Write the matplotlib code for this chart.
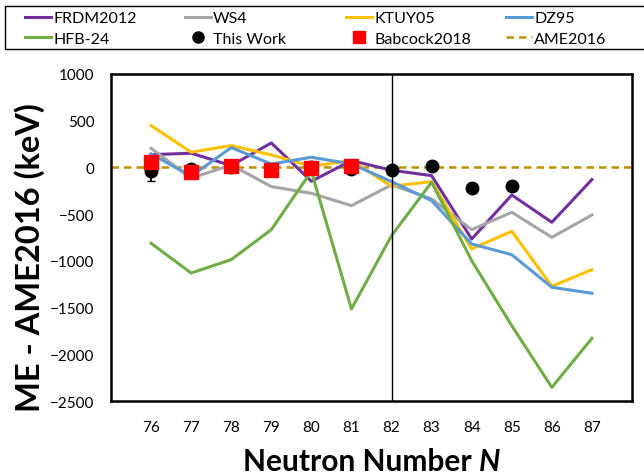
import numpy as np
import matplotlib.pyplot as plt
from matplotlib.patches import Rectangle
from matplotlib.lines import Line2D

plt.rcParams['font.family'] = ['Lato', 'DejaVu Sans']

# Neutron numbers
N = [76, 77, 78, 79, 80, 81, 82, 83, 84, 85, 86, 87]

# Theory minus AME2016 (keV)
frdm2012 = [137, 152, 20, 262, -148, 73, -30, -88, -766, -295, -587, -130]
ws4 = [205, -116, 27, -205, -277, -409, -187, -337, -666, -480, -748, -509]
ktuy05 = [448, 163, 234, 134, 13, 73, -201, -152, -873, -683, -1272, -1094]
dz95 = [145, -94, 212, 37, 109, 37, -152, -355, -819, -934, -1283, -1347]
hfb24 = [-812, -1130, -987, -666, -41, -1515, -730, -159, -998, -1694, -2354, -1829]

# Measurements
N_work = [76, 77, 78, 79, 80, 81, 82, 83, 84, 85]
this_work = [-34, -20, 0, -30, 0, -15, -27, 13, -220, -195]
this_work_err = [115, 20, 20, 20, 20, 20, 20, 20, 20, 20]
N_bab = [76, 77, 78, 79, 80, 81]
babcock2018 = [55, -45, 20, -24, -2, 13]

W, H = 644, 477
fig = plt.figure(figsize=(W / 100, H / 100), dpi=100)
ax = fig.add_axes([111/W, 1-402/H, 521/W, 327/H])

lw = 2.2
h_frdm, = ax.plot(N, frdm2012, color='#7030a0', lw=lw, label='FRDM2012')
h_ws4, = ax.plot(N, ws4, color='#a5a5a5', lw=lw, label='WS4')
h_ktuy, = ax.plot(N, ktuy05, color='#ffc000', lw=lw, label='KTUY05')
h_dz, = ax.plot(N, dz95, color='#5b9bd5', lw=lw, label='DZ95')
h_hfb, = ax.plot(N, hfb24, color='#70ad47', lw=lw, label='HFB-24')
h_ame = ax.axhline(0, color='#bf9000', lw=1.8, ls=(0, (3, 2)), label='AME2016', zorder=1)
ax.errorbar(N_work, this_work, yerr=this_work_err, fmt='o', color='black',
            ms=9, elinewidth=1.5, capsize=3, zorder=4)
ax.plot(N_bab, babcock2018, 's', color='#ff0000', ms=10, zorder=5)

ax.axvline(82, color='black', lw=1)

ax.set_xlim(75, 88)
ax.set_ylim(-2500, 1000)
ax.set_xticks(N)
ax.set_yticks(np.arange(-2500, 1001, 500))
ax.tick_params(axis='both', labelsize=11, length=0)
ax.tick_params(axis='x', pad=14)
ax.tick_params(axis='y', pad=12)
for s in ax.spines.values():
    s.set_linewidth(1.8)

# axis titles
fig.text(30/W, 1 - 258/H, 'ME - AME2016 (keV)', fontsize=23.5, fontweight='bold',
         rotation=90, ha='center', va='center')
t1 = fig.text(0, 1/H, 'Neutron Number ', fontsize=21.5, fontweight='bold',
              ha='left', va='bottom')
t2 = fig.text(0, 1/H, 'N', fontsize=21.5, fontweight='bold', style='italic',
              ha='left', va='bottom')
fig.canvas.draw()
w1 = t1.get_window_extent().width
w2 = t2.get_window_extent().width
x0 = 372 - (w1 + w2) / 2
t1.set_x(x0 / W)
t2.set_x((x0 + w1) / W)

# legend proxies for the point series
h_work = Line2D([], [], ls='none', marker='o', color='black', ms=8, label='This Work')
h_bab = Line2D([], [], ls='none', marker='s', color='#ff0000', ms=8, label='Babcock2018')

# legend: four columns of two entries, inside one frame
cols = [[h_frdm, h_hfb], [h_ws4, h_work], [h_ktuy, h_bab], [h_dz, h_ame]]
col_x = [22, 182, 343, 503]
for hs, x in zip(cols, col_x):
    fig.legend(handles=hs, labels=[h.get_label() for h in hs],
               loc='upper left', bbox_to_anchor=(x / W, 1 - 9 / H),
               frameon=False, fontsize=11.5, handlelength=1.6,
               handletextpad=0.15, labelspacing=0.4, borderaxespad=0,
               borderpad=0.2)
fig.patches.append(Rectangle((5/W, 1 - 50/H), 700/W, 43/H, transform=fig.transFigure,
                             fill=False, edgecolor='black', lw=1))

fig.savefig('out.png', dpi=100)
